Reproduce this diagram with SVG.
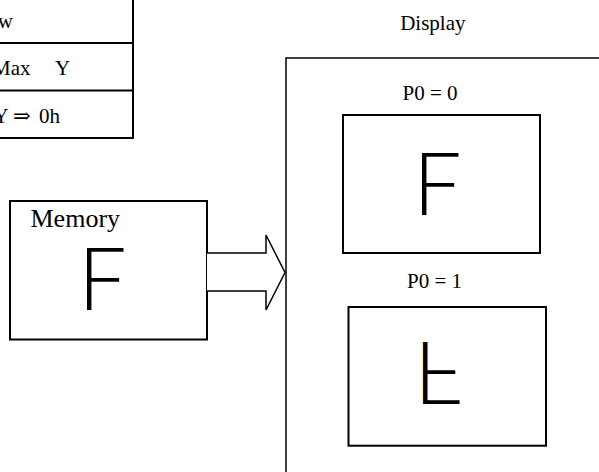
<svg xmlns="http://www.w3.org/2000/svg" width="599" height="472" viewBox="0 0 599 472">
<style>
.t{font-family:"Liberation Serif","Times New Roman","DejaVu Serif",serif;fill:#000;font-size:21px}
.box{fill:none;stroke:#000;stroke-width:2}
.g{font-family:Lato,"Liberation Sans",sans-serif;font-weight:300;font-size:86px;fill:#000}
</style>
<rect width="599" height="472" fill="#fff"/>
<g id="table">
<line x1="0" y1="43" x2="134" y2="43" stroke="#000" stroke-width="2"/>
<line x1="0" y1="90.5" x2="134" y2="90.5" stroke="#000" stroke-width="2"/>
<line x1="0" y1="138" x2="134" y2="138" stroke="#000" stroke-width="2"/>
<line x1="133" y1="0" x2="133" y2="139" stroke="#000" stroke-width="2"/>
<text class="t" x="13" y="28" text-anchor="end">w</text>
<text class="t" y="75"><tspan x="-8">Max</tspan><tspan x="55">Y</tspan></text>
<text class="t" y="123"><tspan x="-6.5">Y</tspan><tspan x="13">⇒</tspan><tspan x="39">0h</tspan></text>
</g>
<g id="memory">
<rect class="box" x="10" y="201" width="197" height="138.5"/>
<text class="t" x="30.5" y="227" style="font-size:26px">Memory</text>
<text class="g" x="78" y="310">F</text>
</g>
<g id="display">
<rect x="286" y="58" width="400" height="500" fill="none" stroke="#000" stroke-width="1.5"/>
<text class="t" x="432.8" y="30" text-anchor="middle">Display</text>
</g>
<g id="screen0">
<text class="t" x="430" y="100" text-anchor="middle">P0 = 0</text>
<rect class="box" x="343" y="115" width="197" height="138"/>
<text class="g" x="413" y="215">F</text>
</g>
<g id="screen1">
<text class="t" x="434.5" y="288" text-anchor="middle">P0 = 1</text>
<rect class="box" x="348.5" y="307" width="197.5" height="138.7"/>
<text class="g" x="414" y="403" transform="matrix(1 0 0 -1 0 744.7)">F</text>
</g>
<g id="connectors">
<polyline points="207,253 266,253 266,235 285,272.5 266,310 266,291 207,291" fill="#fff" stroke="#000" stroke-width="1.5"/>
</g>
</svg>
